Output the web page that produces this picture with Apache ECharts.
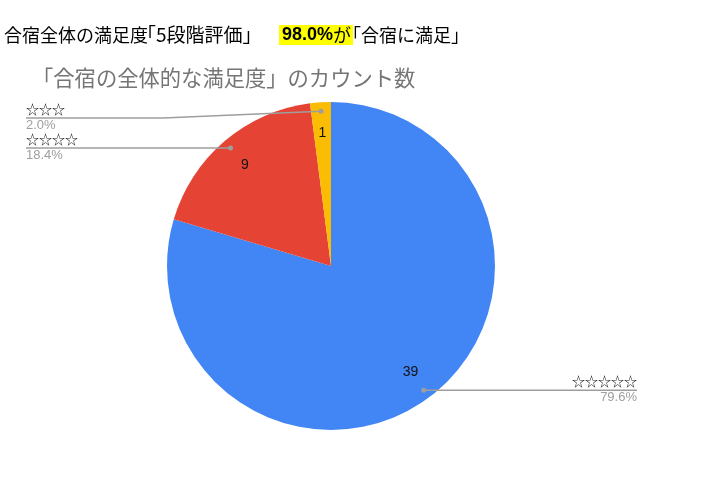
<!DOCTYPE html>
<html>
<head>
<meta charset="utf-8">
<script src="https://cdn.jsdelivr.net/npm/echarts@6/dist/echarts.min.js"></script>
<style>
html,body{margin:0;padding:0;background:#fff;}
#chart{width:702px;height:480px;}
</style>
</head>
<body>
<div id="chart"></div>
<script>
// ---- data ----
const categories = ['☆☆☆☆☆', '☆☆☆☆', '☆☆☆'];
const counts = [39, 9, 1];
const sliceColors = ['#4285F4', '#E54434', '#FBBC04'];
const headlineParts = ['合宿全体の満足度', '「5段階評価」', 'が', '「合宿に満足」'];
const chartTitle = '「合宿の全体的な満足度」のカウント数';

// ---- layout constants ----
const CX = 331, CY = 266, R = 164;
const DOT = 0.945, INNER = 0.81;
const LEFT_X = 26, RIGHT_X = 637, LEFT_TOP = 118, BEND_L = 163;
const CJK = '"Noto Sans CJK JP", "Noto Sans", sans-serif';
const LAT = '"Liberation Sans", Arial, sans-serif';

const total = counts.reduce((a, b) => a + b, 0);
const satisfied = ((counts[0] + counts[1]) / total * 100).toFixed(1);
const pieData = categories.map((c, i) => ({ name: c, value: counts[i], itemStyle: { color: sliceColors[i] } }));
const pieDataT = categories.map((c, i) => ({ name: c, value: counts[i] }));

function dirOf(params) {
  const p = params.labelLinePoints[0];
  const dx = p[0] - CX, dy = p[1] - CY;
  const l = Math.hypot(dx, dy) || 1;
  return [dx / l, dy / l];
}

const chart = echarts.init(document.getElementById('chart'), null, { renderer: 'canvas' });
const base = {
  type: 'pie',
  center: [CX, CY],
  radius: R,
  startAngle: 90,
  clockwise: true,
  animation: false,
  avoidLabelOverlap: false
};
const ghost = { silent: true, z: 5, itemStyle: { color: 'transparent', borderWidth: 0 } };

function headTitle(left, text, size) {
  return { left: left, top: 25, padding: 0, text: text,
           textStyle: { fontFamily: CJK, fontSize: size || 18, fontWeight: 'normal', color: '#000', lineHeight: 20 } };
}

chart.setOption({
  backgroundColor: '#fff',
  animation: false,
  title: [
    headTitle(4, headlineParts[0]),
    headTitle(137, headlineParts[1], 19),
    {
      left: 279, top: 25, padding: 0,
      text: '{b|' + satisfied + '%}{c|' + headlineParts[2] + '}',
      textStyle: {
        fontWeight: 'normal',
        rich: {
          b: { fontFamily: LAT, fontWeight: 'bold', fontSize: 18, color: '#000', backgroundColor: '#ffff00', height: 20, lineHeight: 20, padding: [0, 0, 0, 3] },
          c: { fontFamily: CJK, fontSize: 18, fontWeight: 'normal', color: '#000', backgroundColor: '#ffff00', height: 20, lineHeight: 20, padding: [0, 2, 0, 0] }
        }
      }
    },
    headTitle(343, headlineParts[3]),
    {
      left: 27, top: 62,
      text: chartTitle,
      textStyle: { fontFamily: CJK, fontSize: 21.3, fontWeight: 'normal', color: '#757575' }
    }
  ],
  series: [
    // visible slices
    Object.assign({}, base, {
      data: pieData,
      itemStyle: { borderWidth: 0 },
      label: { show: false },
      labelLine: { show: false }
    }),
    // outer labels + leader lines (drawn above slices)
    Object.assign({}, base, ghost, {
      data: pieDataT,
      label: {
        show: true,
        position: 'outside',
        formatter: p => '{s|' + p.name + '}\n{p|' + (p.value / total * 100).toFixed(1) + '%}',
        rich: {
          s: { fontFamily: CJK, fontSize: 13, color: '#222', lineHeight: 16 },
          p: { fontFamily: LAT, fontSize: 13, color: '#9e9e9e', lineHeight: 16 }
        }
      },
      labelLine: { show: true, lineStyle: { color: '#9e9e9e', width: 1.5 } },
      labelLayout: function (params) {
        const u = dirOf(params);
        const dot = [CX + u[0] * R * DOT, CY + u[1] * R * DOT];
        if (u[0] < 0) {
          const ly = Math.max(dot[1], LEFT_TOP);
          return { x: LEFT_X, y: ly - 17, align: 'left', verticalAlign: 'top',
                   labelLinePoints: [dot, [Math.min(BEND_L, dot[0]), ly], [LEFT_X, ly]] };
        } else {
          const ly = dot[1];
          return { x: RIGHT_X, y: ly - 17, align: 'right', verticalAlign: 'top',
                   labelLinePoints: [dot, [dot[0] + 40, ly], [RIGHT_X, ly]] };
        }
      }
    }),
    // dots at the start of leader lines
    Object.assign({}, base, ghost, {
      z: 6,
      data: pieDataT,
      label: {
        show: true, position: 'outside', formatter: '{d| }',
        rich: { d: { width: 5, height: 5, borderRadius: 2.5, backgroundColor: '#9e9e9e', fontSize: 1 } }
      },
      labelLine: { show: true, lineStyle: { opacity: 0 } },
      labelLayout: function (params) {
        const u = dirOf(params);
        const dot = [CX + u[0] * R * DOT, CY + u[1] * R * DOT];
        return { x: dot[0], y: dot[1], align: 'center', verticalAlign: 'middle', labelLinePoints: [dot, dot, dot] };
      }
    }),
    // value labels inside slices
    Object.assign({}, base, ghost, {
      z: 6,
      data: pieDataT,
      label: {
        show: true, position: 'outside', formatter: '{c}',
        fontFamily: LAT, fontSize: 14, color: '#111'
      },
      labelLine: { show: true, lineStyle: { opacity: 0 } },
      labelLayout: function (params) {
        const u = dirOf(params);
        const pt = [CX + u[0] * R * INNER, CY + u[1] * R * INNER];
        return { x: pt[0], y: pt[1], align: 'center', verticalAlign: 'middle', labelLinePoints: [pt, pt, pt] };
      }
    })
  ]
});
</script>
</body>
</html>
